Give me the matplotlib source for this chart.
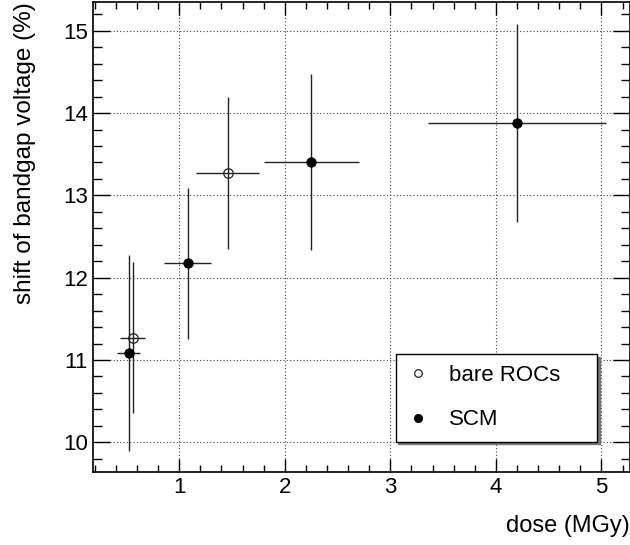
import matplotlib
matplotlib.use("Agg")
import matplotlib.pyplot as plt
from matplotlib.ticker import MultipleLocator
from matplotlib.lines import Line2D

plt.rcParams['font.family'] = ['Liberation Sans', 'DejaVu Sans']

# --- data ---
bare_x = [0.56, 1.46]
bare_xerr = [0.12, 0.30]
bare_y = [11.27, 13.27]
bare_yerr = [0.915, 0.92]

scm_x = [0.52, 1.08, 2.25, 4.20]
scm_xerr = [0.11, 0.22, 0.45, 0.84]
scm_y = [11.09, 12.175, 13.41, 13.88]
scm_yerr = [1.19, 0.92, 1.07, 1.20]

labels = ["bare ROCs", "SCM"]
xlabel = "dose (MGy)"
ylabel = "shift of bandgap voltage (%)"

fig = plt.figure(figsize=(6.3, 5.45), dpi=100)
ax = fig.add_axes([93.3 / 630, 1 - 471.7 / 545, (630 - 93.3) / 630, (471.7 - 2) / 545])

ecol = '#222222'
ax.errorbar(bare_x, bare_y, xerr=bare_xerr, yerr=bare_yerr, fmt='o', ms=6.8,
            mfc='none', mec='#222222', mew=0.9, ecolor=ecol, elinewidth=1.0,
            capsize=0, zorder=3)
ax.errorbar(scm_x, scm_y, xerr=scm_xerr, yerr=scm_yerr, fmt='o', ms=6.8,
            mfc='black', mec='black', mew=0.6, ecolor=ecol, elinewidth=1.0,
            capsize=0, zorder=3)

ax.set_xlim(0.186, 5.27)
ax.set_ylim(9.643, 15.35)
ax.xaxis.set_major_locator(MultipleLocator(1))
ax.xaxis.set_minor_locator(MultipleLocator(0.2))
ax.yaxis.set_major_locator(MultipleLocator(1))
ax.yaxis.set_minor_locator(MultipleLocator(0.2))

ax.tick_params(which='both', direction='in', top=True, right=True, labelsize=16,
               width=1.0, color='black')
ax.tick_params(axis='x', which='major', length=9.5, pad=4)
ax.tick_params(axis='x', which='minor', length=5)
ax.tick_params(axis='y', which='major', length=12, pad=4)
ax.tick_params(axis='y', which='minor', length=6.5)

for s in ax.spines.values():
    s.set_linewidth(1.2)

ax.grid(True, which='major', color='#444444', linestyle=(0, (1, 2)), linewidth=0.8)
ax.set_axisbelow(True)

ax.set_xlabel(xlabel, loc='right', fontsize=17, labelpad=12)
ax.set_ylabel(ylabel, loc='top', fontsize=17.5, labelpad=19)

handles = [
    Line2D([], [], marker='o', ls='none', ms=5.5, mfc='none', mec='#222222', mew=0.9),
    Line2D([], [], marker='o', ls='none', ms=5.5, mfc='black', mec='black'),
]
leg = ax.legend(handles, labels, loc='upper left',
                bbox_to_anchor=((395.7 - 93.3) / 536.7, (471.7 - 354) / 469.7, 201.6 / 536.7, 0.0),
                mode='expand', borderaxespad=0, fontsize=16, frameon=True, fancybox=False,
                edgecolor='black', framealpha=1, borderpad=0.5, labelspacing=1.05,
                handlelength=1.0, handletextpad=0.9,
                shadow={'color': '#777777', 'alpha': 1.0, 'ox': 2, 'oy': -2})
leg.get_frame().set_linewidth(1.0)

fig.savefig("out.png", dpi=100)
